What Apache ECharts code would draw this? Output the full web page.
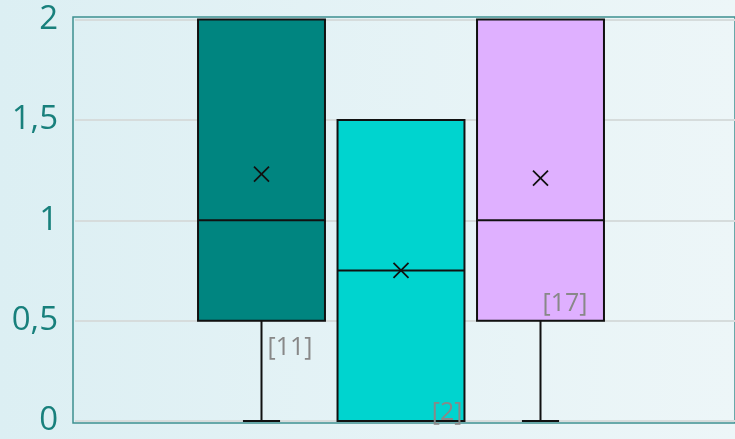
<!DOCTYPE html>
<html>
<head>
<meta charset="utf-8">
<script src="https://cdn.jsdelivr.net/npm/echarts@6/dist/echarts.min.js"></script>
<style>
  html, body { margin: 0; padding: 0; }
  #chart { width: 735px; height: 439px; }
</style>
</head>
<body>
<div id="chart"></div>
<script>
// box statistics, one entry per box
var groups = ['A', 'B', 'C'];
var mins    = [0,    0,    0];
var q1s     = [0.5,  0,    0.5];
var medians = [1,    0.75, 1];
var q3s     = [2,    1.5,  2];
var maxs    = [2,    1.5,  2];
var means   = [1.23, 0.75, 1.21];
var counts  = ['[11]', '[2]', '[17]'];
var colors  = ['#008580', '#00D4CF', '#DFB0FF'];
var yTicks  = [0, 0.5, 1, 1.5, 2];

var myChart = echarts.init(document.getElementById('chart'));

var boxData = groups.map(function (g, i) {
  return [i, mins[i], q1s[i], medians[i], q3s[i], maxs[i], means[i]];
});

function renderBox(params, api) {
  var i = params.dataIndex;
  var x = api.value(0);
  var band = api.size([1, 0])[0];
  var half = band * 0.455;
  var cap = band * 0.133;
  var cx = api.coord([x, 0])[0];
  var yMin = api.coord([x, api.value(1)])[1];
  var yQ1 = api.coord([x, api.value(2)])[1];
  var yMed = api.coord([x, api.value(3)])[1];
  var yQ3 = api.coord([x, api.value(4)])[1];
  var yMax = api.coord([x, api.value(5)])[1];
  var yMean = api.coord([x, api.value(6)])[1];
  var line = { stroke: '#111', lineWidth: 2 };
  var children = [];
  if (yMin > yQ1) {
    children.push({ type: 'line', shape: { x1: cx, y1: yQ1, x2: cx, y2: yMin }, style: line });
    children.push({ type: 'line', shape: { x1: cx - cap, y1: yMin, x2: cx + cap, y2: yMin }, style: line });
  }
  if (yMax < yQ3) {
    children.push({ type: 'line', shape: { x1: cx, y1: yQ3, x2: cx, y2: yMax }, style: line });
    children.push({ type: 'line', shape: { x1: cx - cap, y1: yMax, x2: cx + cap, y2: yMax }, style: line });
  }
  children.push({
    type: 'rect',
    shape: { x: cx - half, y: yQ3, width: half * 2, height: yQ1 - yQ3 },
    style: { fill: colors[i], stroke: '#111', lineWidth: 2 }
  });
  children.push({ type: 'line', shape: { x1: cx - half, y1: yMed, x2: cx + half, y2: yMed }, style: line });
  var m = 7.5;
  children.push({ type: 'line', shape: { x1: cx - m, y1: yMean - m, x2: cx + m, y2: yMean + m }, style: { stroke: '#111', lineWidth: 1.8 } });
  children.push({ type: 'line', shape: { x1: cx - m, y1: yMean + m, x2: cx + m, y2: yMean - m }, style: { stroke: '#111', lineWidth: 1.8 } });

  // count labels, placed like the reference
  var lab = { text: counts[i], fill: '#888888', fontSize: 25, fontFamily: 'Open Sans' };
  var tx, ty;
  if (i === 0) { tx = cx + 6; ty = yQ1 + 27; lab.align = 'left'; lab.verticalAlign = 'middle'; }
  else if (i === 1) { tx = cx + half - 2; ty = yMin + 4; lab.align = 'right'; lab.verticalAlign = 'bottom'; }
  else { tx = cx + 2; ty = yQ1 - 17; lab.align = 'left'; lab.verticalAlign = 'middle'; }
  children.push({ type: 'text', x: tx, y: ty, style: lab, z2: 10 });
  return { type: 'group', children: children };
}

var option = {
  backgroundColor: new echarts.graphic.LinearGradient(0, 0, 1, 0, [
    { offset: 0, color: '#DCEFF3' },
    { offset: 1, color: '#EDF6F8' }
  ]),
  animation: false,
  grid: [
    { left: 73, right: -4, top: 17, bottom: 16, show: true, borderColor: '#3E9090', borderWidth: 1.5, backgroundColor: 'transparent' },
    { left: 75, right: -4, top: 19.5, bottom: 18 },
    { left: 191.75, width: 418.5, top: 19.5, bottom: 18 }
  ],
  xAxis: [
    { type: 'value', gridIndex: 0, show: false },
    { type: 'value', gridIndex: 1, show: false },
    { type: 'category', gridIndex: 2, data: groups, show: false }
  ],
  yAxis: [
    { type: 'value', gridIndex: 0, show: false },
    {
      type: 'value', gridIndex: 1, min: yTicks[0], max: yTicks[yTicks.length - 1], interval: 0.5,
      axisLine: { show: false }, axisTick: { show: false },
      axisLabel: {
        color: '#18807C', fontSize: 33, fontFamily: 'Open Sans', margin: 17,
        formatter: function (v) { return String(v).replace('.', ','); }
      },
      splitLine: { lineStyle: { color: '#D6DCDC', width: 2 } }
    },
    { type: 'value', gridIndex: 2, min: 0, max: 2, show: false }
  ],
  series: [
    {
      type: 'custom',
      xAxisIndex: 2,
      yAxisIndex: 2,
      renderItem: renderBox,
      data: boxData,
      z: 5
    }
  ]
};

myChart.setOption(option);
</script>
</body>
</html>
